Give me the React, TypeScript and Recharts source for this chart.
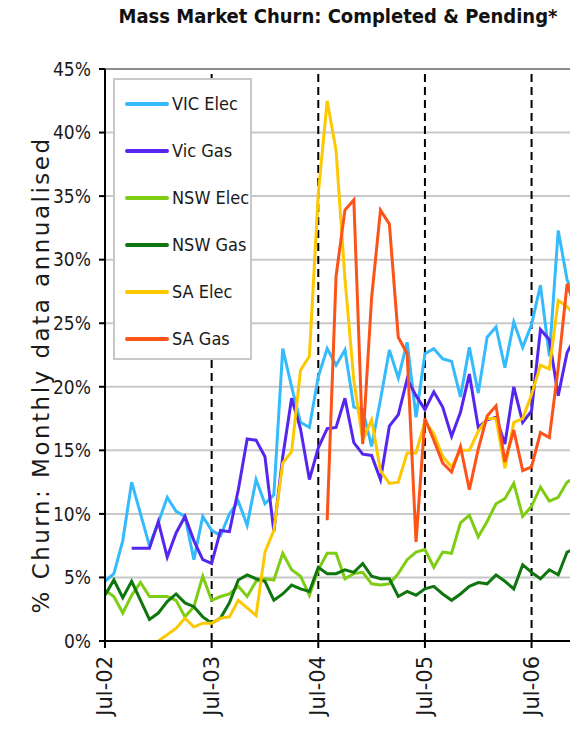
import { LineChart, Line, XAxis, YAxis, CartesianGrid, ReferenceLine, Legend } from "recharts";

const MONTHS = [
  "Jul-02", "Aug-02", "Sep-02", "Oct-02", "Nov-02", "Dec-02",
  "Jan-03", "Feb-03", "Mar-03", "Apr-03", "May-03", "Jun-03",
  "Jul-03", "Aug-03", "Sep-03", "Oct-03", "Nov-03", "Dec-03",
  "Jan-04", "Feb-04", "Mar-04", "Apr-04", "May-04", "Jun-04",
  "Jul-04", "Aug-04", "Sep-04", "Oct-04", "Nov-04", "Dec-04",
  "Jan-05", "Feb-05", "Mar-05", "Apr-05", "May-05", "Jun-05",
  "Jul-05", "Aug-05", "Sep-05", "Oct-05", "Nov-05", "Dec-05",
  "Jan-06", "Feb-06", "Mar-06", "Apr-06", "May-06", "Jun-06",
  "Jul-06", "Aug-06", "Sep-06", "Oct-06", "Nov-06", "Dec-06",
];

const X_TICKS = ["Jul-02", "Jul-03", "Jul-04", "Jul-05", "Jul-06"];
const YEAR_LINES = ["Jul-03", "Jul-04", "Jul-05", "Jul-06"];
const Y_TICKS = [0, 5, 10, 15, 20, 25, 30, 35, 40, 45];

// % churn, monthly data annualised
const VIC_ELEC = [
  4.7, 5.3, 7.9, 12.5, 10.0, 7.5, 9.3, 11.3, 10.2, 9.8, 6.4, 9.8,
  8.7, 8.3, 10.0, 11.0, 9.1, 12.7, 10.8, 11.5, 23.0, 20.0, 17.2, 16.8,
  20.8, 23.0, 21.7, 22.9, 18.4, 18.2, 15.3, 19.0, 22.9, 20.7, 23.5, 17.6,
  22.6, 23.0, 22.2, 22.0, 19.2, 23.1, 19.5, 23.9, 24.7, 21.5, 25.1, 23.1,
  24.9, 28.0, 22.4, 32.3, 28.4, 27.0,
];
const VIC_GAS = [
  null, null, null, 7.3, 7.3, 7.3, 9.4, 6.6, 8.5, 9.8, 7.9, 6.4,
  6.1, 8.7, 8.6, 11.9, 15.9, 15.8, 14.5, 8.6, 14.5, 19.1, 16.7, 12.7,
  15.2, 16.7, 16.8, 19.1, 15.6, 14.7, 14.6, 12.7, 16.9, 17.8, 20.6, 19.3,
  18.2, 19.6, 18.4, 16.1, 18.0, 21.0, 16.8, 17.4, 17.6, 15.5, 20.0, 17.2,
  18.1, 24.5, 23.7, 19.3, 22.7, 24.0,
];
const NSW_ELEC = [
  4.0, 3.5, 2.2, 3.6, 4.6, 3.5, 3.5, 3.5, 3.2, 1.9, 2.7, 5.1,
  3.2, 3.5, 3.7, 4.3, 3.5, 4.7, 4.9, 4.8, 6.9, 5.6, 5.1, 3.6,
  5.6, 6.9, 6.9, 4.9, 5.3, 5.4, 4.5, 4.4, 4.5, 5.3, 6.4, 7.0,
  7.2, 5.8, 7.0, 6.9, 9.3, 9.9, 8.2, 9.4, 10.8, 11.2, 12.4, 9.8,
  10.6, 12.1, 11.0, 11.3, 12.5, 12.9,
];
const NSW_GAS = [
  3.6, 4.8, 3.4, 4.7, 3.2, 1.7, 2.2, 3.1, 3.7, 3.0, 2.7, 1.9,
  1.4, 1.8, 3.0, 4.8, 5.2, 4.9, 4.7, 3.2, 3.7, 4.4, 4.1, 3.9,
  5.8, 5.3, 5.3, 5.6, 5.4, 6.1, 5.1, 4.9, 4.9, 3.5, 3.9, 3.6,
  4.1, 4.3, 3.7, 3.2, 3.7, 4.3, 4.6, 4.5, 5.2, 4.7, 4.1, 6.0,
  5.4, 4.9, 5.6, 5.2, 7.0, 7.3,
];
const SA_ELEC = [
  null, null, null, null, null, null, 0.0, 0.5, 1.0, 1.8, 1.1, 1.4,
  1.4, 1.8, 1.9, 3.2, 2.6, 2.0, 7.0, 8.7, 14.0, 14.9, 21.3, 22.4,
  35.2, 42.5, 38.6, 28.5, 20.5, 15.8, 17.4, 13.4, 12.4, 12.5, 14.8, 14.8,
  17.3, 16.3, 14.5, 13.7, 15.0, 15.0, 16.5, 17.5, 17.5, 13.6, 17.2, 17.5,
  19.4, 21.7, 21.4, 26.8, 26.3, 25.5,
];
const SA_GAS = [
  null, null, null, null, null, null, null, null, null, null, null, null,
  null, null, null, null, null, null, null, null, null, null, null, null,
  null, 9.5, 28.7, 33.9, 34.7, 15.5, 27.0, 33.9, 32.8, 23.9, 22.6, 7.8,
  17.5, 15.8, 14.0, 13.3, 15.3, 11.9, 15.1, 17.7, 18.5, 14.1, 16.6, 13.4,
  13.7, 16.4, 16.0, 21.5, 28.1, 26.0,
];

const SERIES = [
  { key: "vicElec", name: "VIC Elec", color: "#35bbfc", values: VIC_ELEC },
  { key: "vicGas", name: "Vic Gas", color: "#5526ee", values: VIC_GAS },
  { key: "nswElec", name: "NSW Elec", color: "#7fcc14", values: NSW_ELEC },
  { key: "nswGas", name: "NSW Gas", color: "#0f760f", values: NSW_GAS },
  { key: "saElec", name: "SA Elec", color: "#fcc800", values: SA_ELEC },
  { key: "saGas", name: "SA Gas", color: "#fc5418", values: SA_GAS },
];

const data = MONTHS.map((month, i) => {
  const row: Record<string, string | number | null> = { month };
  SERIES.forEach((s) => {
    row[s.key] = s.values[i];
  });
  return row;
});

const condensed = '"DejaVu Sans Condensed", "DejaVu Sans", sans-serif';

function MonthTick({ x, y, payload }: any) {
  return (
    <g transform={`translate(${x},${y + 6})`}>
      <text
        transform="rotate(-90)"
        textAnchor="end"
        dominantBaseline="central"
        fill="#1a1a1a"
        fontSize={21}
        fontFamily='"DejaVu Sans", sans-serif'
      >
        {payload.value}
      </text>
    </g>
  );
}

function LegendBox() {
  return (
    <div
      style={{
        width: 139,
        height: 282,
        boxSizing: "border-box",
        border: "2px solid #c8c8c8",
        background: "#fff",
      }}
    >
      {SERIES.map((s) => (
        <div key={s.key} style={{ display: "flex", alignItems: "center", height: 47 }}>
          <span
            style={{ flex: "none", width: 44, height: 4, background: s.color, marginLeft: 10, borderRadius: 2 }}
          />
          <span
            style={{
              marginLeft: 3,
              whiteSpace: "nowrap",
              fontFamily: condensed,
              fontSize: 18,
              color: "#1a1a1a",
            }}
          >
            {s.name}
          </span>
        </div>
      ))}
    </div>
  );
}

export default function App() {
  return (
    <div
      style={{
        position: "fixed",
        left: 0,
        top: 0,
        width: 570,
        height: 743,
        overflow: "hidden",
        background: "#fff",
      }}
    >
      <div
        style={{
          position: "absolute",
          left: 338,
          top: 4,
          transform: "translateX(-50%)",
          whiteSpace: "nowrap",
          fontFamily: condensed,
          fontWeight: "bold",
          fontSize: 20,
          color: "#111",
        }}
      >
        Mass Market Churn: Completed &amp; Pending*
      </div>
      <div
        style={{
          position: "absolute",
          left: 41,
          top: 375,
          transform: "translate(-50%, -50%) rotate(-90deg)",
          whiteSpace: "nowrap",
          fontFamily: '"DejaVu Sans", sans-serif',
          fontSize: 23,
          letterSpacing: 2.5,
          color: "#1a1a1a",
        }}
      >
        % Churn: Monthly data annualised
      </div>
      <LineChart
        width={600}
        height={743}
        data={data}
        margin={{ top: 69, right: 24, bottom: 0, left: 0 }}
      >
        <CartesianGrid vertical={false} stroke="#c8c8c8" strokeWidth={2} />
        <XAxis
          dataKey="month"
          scale="point"
          padding={{ left: 0, right: 0 }}
          ticks={X_TICKS}
          interval={0}
          height={102}
          tickSize={7}
          axisLine={{ stroke: "#000", strokeWidth: 2 }}
          tickLine={{ stroke: "#000", strokeWidth: 2 }}
          tick={<MonthTick />}
        />
        <YAxis
          domain={[0, 45]}
          ticks={Y_TICKS}
          interval={0}
          width={105}
          tickSize={6}
          tickMargin={8}
          tickFormatter={(v) => `${v}%`}
          axisLine={{ stroke: "#000", strokeWidth: 2 }}
          tickLine={{ stroke: "#000", strokeWidth: 2 }}
          tick={{ fill: "#1a1a1a", fontSize: 19, fontFamily: condensed }}
        />
        <ReferenceLine y={45} stroke="#8c8c8c" strokeWidth={2} />
        {YEAR_LINES.map((m) => (
          <ReferenceLine key={m} x={m} stroke="#000" strokeWidth={2} strokeDasharray="8 5" />
        ))}
        {SERIES.map((s) => (
          <Line
            key={s.key}
            type="linear"
            dataKey={s.key}
            name={s.name}
            stroke={s.color}
            strokeWidth={3}
            dot={false}
            activeDot={false}
            isAnimationActive={false}
          />
        ))}
        <Legend
          layout="vertical"
          align="center"
          verticalAlign="middle"
          content={<LegendBox />}
          wrapperStyle={{ left: 113, top: 78, width: 139, height: 282 }}
        />
      </LineChart>
    </div>
  );
}
